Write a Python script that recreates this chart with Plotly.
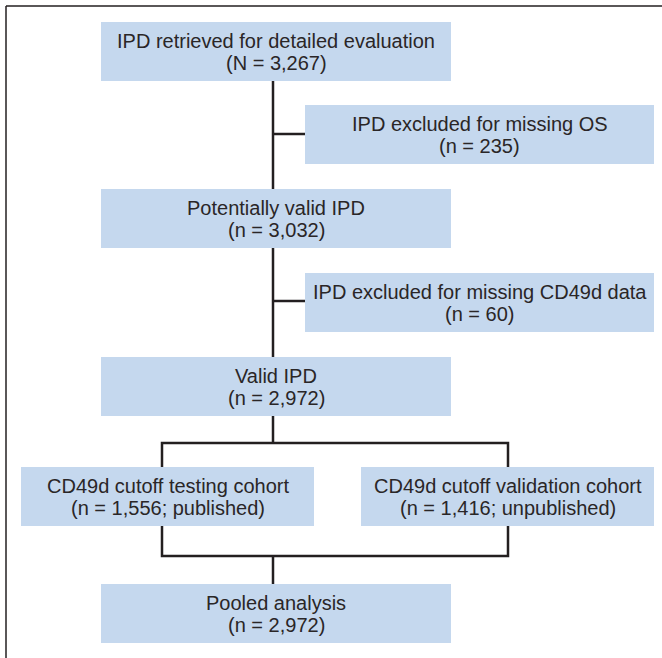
import plotly.graph_objects as go

# ---- content ----
box_titles = [
    "IPD retrieved for detailed evaluation",
    "IPD excluded for missing OS",
    "Potentially valid IPD",
    "IPD excluded for missing CD49d data",
    "Valid IPD",
    "CD49d cutoff testing cohort",
    "CD49d cutoff validation cohort",
    "Pooled analysis",
]
box_counts = [
    "(N = 3,267)",
    "(n = 235)",
    "(n = 3,032)",
    "(n = 60)",
    "(n = 2,972)",
    "(n = 1,556; published)",
    "(n = 1,416; unpublished)",
    "(n = 2,972)",
]

# ---- layout geometry (pixels, y downward) ----
W, H = 662, 658
boxes = [  # x0, x1, y0, y1
    (101, 451, 22, 81),
    (305, 654, 105, 164),
    (101, 451, 189, 248),
    (305, 654, 273, 332),
    (101, 451, 357, 416),
    (21, 314, 467, 526),
    (361, 654, 467, 526),
    (101, 451, 584, 643),
]
connectors = [  # polylines
    [(273, 81), (273, 189)],
    [(273, 134), (305, 134)],
    [(273, 248), (273, 357)],
    [(273, 301), (305, 301)],
    [(273, 416), (273, 443)],
    [(162, 467), (162, 443), (508, 443), (508, 467)],
    [(162, 526), (162, 556), (508, 556), (508, 526)],
    [(273, 556), (273, 584)],
]

BOX_FILL = "#c5d8ee"
LINE = "#231f20"
TEXT = "#2a2627"
FONT = "Liberation Sans, Arial"
FSIZE = 20
GAP = 11  # half line spacing

fig = go.Figure()
shapes = []
annotations = []

# frame (top and left)
shapes.append(dict(type="line", xref="x", yref="y", x0=6, y0=6, x1=W, y1=6,
                   line=dict(color=LINE, width=1.5)))
shapes.append(dict(type="line", xref="x", yref="y", x0=6, y0=6, x1=6, y1=H,
                   line=dict(color=LINE, width=1.5)))

for pts in connectors:
    path = "M " + " L ".join(f"{x},{y}" for x, y in pts)
    shapes.append(dict(type="path", xref="x", yref="y", path=path,
                       line=dict(color=LINE, width=2.5), layer="below"))

for (x0, x1, y0, y1), t, c in zip(boxes, box_titles, box_counts):
    shapes.append(dict(type="rect", xref="x", yref="y", x0=x0, x1=x1, y0=y0, y1=y1,
                       fillcolor=BOX_FILL, line=dict(width=0), layer="above"))
    cx, cy = (x0 + x1) / 2, (y0 + y1) / 2
    for txt, dy in ((t, -GAP), (c, GAP)):
        annotations.append(dict(x=cx, y=cy + dy, xref="x", yref="y",
                                text=txt, showarrow=False,
                                font=dict(family=FONT, size=FSIZE, color=TEXT),
                                xanchor="center", yanchor="middle"))

fig.update_layout(
    width=W, height=H,
    margin=dict(l=0, r=0, t=0, b=0),
    paper_bgcolor="white", plot_bgcolor="white",
    xaxis=dict(range=[0, W], visible=False, fixedrange=True),
    yaxis=dict(range=[H, 0], visible=False, fixedrange=True),
    shapes=shapes, annotations=annotations, showlegend=False,
)
fig.write_html("out.html", config={"displayModeBar": False},
               post_script="document.body.style.margin='0px';document.body.style.overflow='hidden';")
